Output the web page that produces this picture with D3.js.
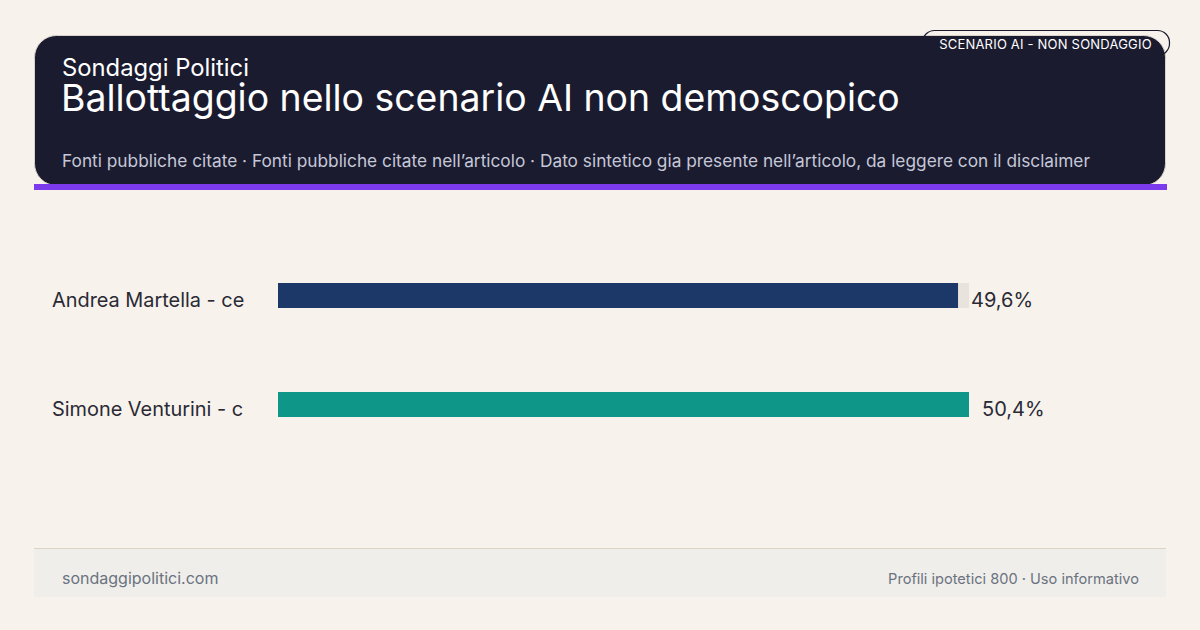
<!DOCTYPE html>
<html><head><meta charset="utf-8">
<script src="https://cdn.jsdelivr.net/npm/d3@7/dist/d3.min.js"></script>
<style>html,body{margin:0;padding:0;background:#f7f2ec;}svg{display:block;font-family:Inter,"Noto Sans",sans-serif;}</style>
</head><body>
<svg id="c" width="1200" height="630"></svg>
<script>
const categories = ["Andrea Martella - ce", "Simone Venturini - c"];
const values = [49.6, 50.4];
const valueLabels = ["49,6%", "50,4%"];
const colors = ["#1c3868", "#0e9688"];
const headerKicker = "Sondaggi Politici";
const headerTitle = "Ballottaggio nello scenario AI non demoscopico";
const headerSub = "Fonti pubbliche citate · Fonti pubbliche citate nell’articolo · Dato sintetico gia presente nell’articolo, da leggere con il disclaimer";
const badge = "SCENARIO AI - NON SONDAGGIO";
const footLeft = "sondaggipolitici.com";
const footRight = "Profili ipotetici 800 · Uso informativo";

const svg = d3.select("#c");
svg.append("rect").attr("width",1200).attr("height",630).attr("fill","#f7f2ec");

// header
const hd = svg.append("g");
hd.append("rect").attr("x",34.5).attr("y",35.5).attr("width",1131).attr("height",150).attr("rx",22)
  .attr("fill","#1b1b2f").attr("stroke","#d8d2c8").attr("stroke-width",1);
hd.append("rect").attr("x",34).attr("y",184).attr("width",1133).attr("height",6).attr("fill","#7c3aed");
hd.append("rect").attr("x",922.5).attr("y",30.5).attr("width",247).attr("height",25).attr("rx",12)
  .attr("fill","none").attr("stroke","#1b1b2f").attr("stroke-width",1.2);
hd.append("text").attr("x",1045.5).attr("y",49).attr("text-anchor","middle").attr("fill","#ffffff")
  .attr("font-size",13).attr("letter-spacing",0.2).text(badge);
hd.append("text").attr("x",62).attr("y",76).attr("fill","#ffffff").attr("font-size",23.8).text(headerKicker);
hd.append("text").attr("x",61).attr("y",111).attr("fill","#ffffff").attr("font-size",37.4).text(headerTitle);
hd.append("text").attr("x",62).attr("y",167).attr("fill","#c5c8d8").attr("font-size",17.3).text(headerSub);

// chart
const x = d3.scaleLinear().domain([0, d3.max(values)]).range([278, 969]);
const y = d3.scalePoint().domain(categories).range([295.5, 404.5]);
const bh = 25;
const g = svg.append("g");
const rows = g.selectAll("g.row").data(categories).join("g").attr("class","row");
rows.append("rect").attr("x",x(0)).attr("y",d=>y(d)-bh/2)
  .attr("width",x(d3.max(values))-x(0)).attr("height",bh).attr("fill","#e8e3dc");
rows.append("rect").attr("x",x(0)).attr("y",d=>y(d)-bh/2)
  .attr("width",(d,i)=>x(values[i])-x(0)).attr("height",bh).attr("fill",(d,i)=>colors[i]);
rows.append("text").attr("x",52).attr("y",d=>y(d)+11).attr("fill","#2a2a35")
  .attr("font-size",19.9).text(d=>d);
rows.append("text").attr("x",(d,i)=>x(values[i])+13).attr("y",d=>y(d)+11).attr("fill","#2a2a35")
  .attr("font-size",20).text((d,i)=>valueLabels[i]);

// footer
svg.append("rect").attr("x",34).attr("y",549).attr("width",1132).attr("height",48).attr("fill","#efeeea");
svg.append("line").attr("x1",34).attr("x2",1166).attr("y1",548.5).attr("y2",548.5).attr("stroke","#ddd5c4").attr("stroke-width",1);
svg.append("text").attr("x",62).attr("y",584).attr("fill","#6b7280").attr("font-size",16).text(footLeft);
svg.append("text").attr("x",1139).attr("y",584).attr("text-anchor","end").attr("fill","#6b7280").attr("font-size",14.6).text(footRight);
</script>
</body></html>
